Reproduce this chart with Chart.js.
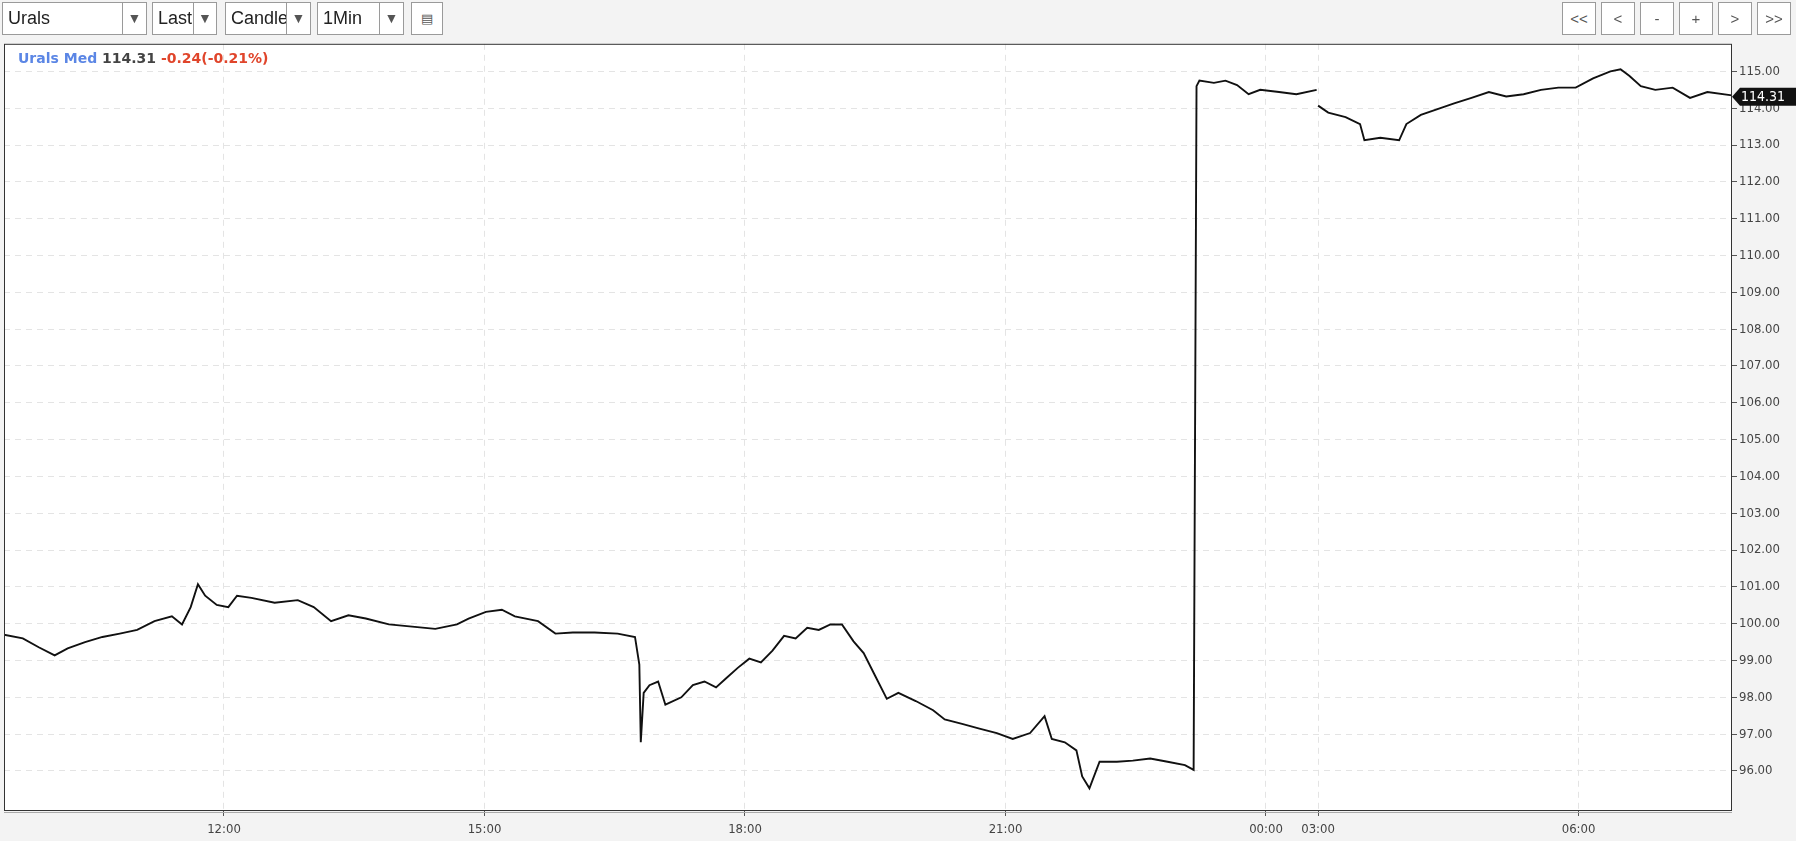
<!DOCTYPE html>
<html>
<head>
<meta charset="utf-8">
<script src="https://cdn.jsdelivr.net/npm/chart.js@4/dist/chart.umd.min.js"></script>
<style>
  html, body { margin: 0; padding: 0; background: #f3f3f3; width: 1796px; height: 841px; overflow: hidden;
    font-family: "Liberation Sans", Arial, sans-serif; }
  .sel { position: absolute; top: 2px; height: 31px; border: 1px solid #9a9a9a; background: #fff;
    font-size: 18px; line-height: 31px; color: #222; box-sizing: content-box; z-index: 2; }
  .sel span { position: absolute; left: 5px; top: 0; overflow: hidden; white-space: nowrap; }
  .sel .arr { position: absolute; top: 0; bottom: 0; right: 0; border-left: 1px solid #9a9a9a;
    text-align: center; color: #555; font-size: 14px; }
  .btn { position: absolute; top: 2px; width: 32px; height: 31px; border: 1px solid #9a9a9a; background: #fff;
    text-align: center; line-height: 31px; color: #555; font-size: 15px; z-index: 2; }
  #wrap { position: absolute; left: 0; top: 34px; width: 1796px; height: 807px; }
  #legend { position: absolute; left: 18px; top: 50px; font-size: 14px; font-weight: bold; font-family: "DejaVu Sans", sans-serif; }
</style>
</head>
<body>
<div id="wrap"><canvas id="c"></canvas></div>
<div class="sel" style="left:2px;width:143px"><span>Urals</span><div class="arr" style="width:23px">▼</div></div>
<div class="sel" style="left:152px;width:63px"><span style="width:40px">Last</span><div class="arr" style="width:22px">▼</div></div>
<div class="sel" style="left:225px;width:84px"><span style="width:56px">Candle</span><div class="arr" style="width:23px">▼</div></div>
<div class="sel" style="left:317px;width:85px"><span>1Min</span><div class="arr" style="width:23px">▼</div></div>
<div class="btn" style="left:411px;width:30px;font-size:13px">&#9636;</div>
<div class="btn" style="left:1562px">&lt;&lt;</div>
<div class="btn" style="left:1601px">&lt;</div>
<div class="btn" style="left:1640px">-</div>
<div class="btn" style="left:1679px">+</div>
<div class="btn" style="left:1718px">&gt;</div>
<div class="btn" style="left:1757px">&gt;&gt;</div>
<div id="legend"><span style="color:#5b86e5">Urals Med</span> <span style="color:#444">114.31</span> <span style="color:#e0452b">-0.24(-0.21%)</span></div>
<script>
// session 1: 09:28 .. 00:36, session 2: 03:00 .. 07:46
const times1 = ['09:28','09:41','09:52','10:03','10:12','10:24','10:36','10:48','11:00','11:12','11:24','11:31','11:37','11:42','11:47','11:55',
  '12:03','12:09','12:19','12:35','12:51','13:02','13:14','13:26','13:38','13:54','14:10','14:26','14:41','14:49','15:01','15:12','15:21','15:37',
  '15:49','16:01','16:16','16:32','16:44','16:47','16:48','16:50','16:54','17:00','17:05','17:16','17:24','17:32','17:40','17:47','17:55',
  '18:03','18:11','18:19','18:27','18:35','18:43','18:51','18:59','19:07','19:15','19:22','19:30','19:38','19:46','19:58','20:10','20:18',
  '20:30','20:42','20:54','21:05','21:17','21:27','21:32','21:41','21:49','21:53','21:58','22:05','22:17','22:28','22:40','22:52','23:04',
  '23:10','23:12','23:14','23:24','23:32','23:40','23:48','23:56','00:09','00:21','00:35'];
const prices1 = [99.70,99.60,99.36,99.14,99.33,99.50,99.64,99.73,99.83,100.07,100.20,99.98,100.45,101.07,100.76,100.51,
  100.45,100.76,100.70,100.57,100.64,100.45,100.07,100.23,100.14,99.98,99.92,99.86,99.98,100.14,100.32,100.38,100.20,100.07,
  99.73,99.76,99.76,99.73,99.64,98.89,96.78,98.12,98.33,98.43,97.80,98.00,98.33,98.43,98.27,98.52,98.80,
  99.05,98.95,99.27,99.67,99.60,99.89,99.83,99.98,99.98,99.52,99.20,98.58,97.96,98.12,97.90,97.65,97.40,
  97.28,97.15,97.03,96.87,97.03,97.49,96.87,96.78,96.56,95.85,95.53,96.25,96.25,96.28,96.34,96.25,96.16,
  96.03,114.60,114.75,114.69,114.75,114.63,114.38,114.50,114.44,114.38,114.50];
const times2 = ['03:00','03:07','03:19','03:29','03:32','03:43','03:56','04:01','04:11','04:22','04:34','04:46','04:58','05:10',
  '05:22','05:34','05:46','05:58','06:10','06:22','06:29','06:35','06:43','06:53','07:05','07:17','07:29','07:46'];
const prices2 = [114.07,113.88,113.76,113.57,113.13,113.20,113.13,113.57,113.82,113.97,114.13,114.28,114.44,114.32,
  114.38,114.50,114.56,114.56,114.81,115.00,115.06,114.88,114.60,114.50,114.56,114.28,114.44,114.35];
const tickTimes = ['12:00','15:00','18:00','21:00','00:00','03:00','06:00'];
const lastPrice = 114.31;

// compressed session axis, minutes from 09:28
function pos(t, second) {
  const [h, m] = t.split(':').map(Number);
  const mins = h * 60 + m;
  if (second) return 908 + (mins - 180);
  if (h >= 9) return mins - 568;
  return 872 + mins;
}
const pts = times1.map((t, i) => ({ x: pos(t, false), y: prices1[i] }))
  .concat([{ x: 907, y: null }])
  .concat(times2.map((t, i) => ({ x: pos(t, true), y: prices2[i] })));
const tickPos = tickTimes.map((t, i) => pos(t, i >= 5));

const framePlugin = {
  id: 'frame',
  beforeDraw(chart) {
    const { ctx, chartArea: a } = chart;
    ctx.save();
    ctx.fillStyle = '#fff';
    ctx.fillRect(a.left, a.top, a.right - a.left, a.bottom - a.top);
    ctx.restore();
  },
  afterDraw(chart) {
    const { ctx, chartArea: a, scales } = chart;
    ctx.save();
    ctx.strokeStyle = '#333';
    ctx.lineWidth = 1;
    ctx.strokeRect(a.left + 0.5, a.top + 0.5, a.right - a.left - 1, a.bottom - a.top);
    ctx.strokeStyle = '#aaa';
    ctx.beginPath(); ctx.moveTo(a.left, a.bottom + 2.5); ctx.lineTo(a.right, a.bottom + 2.5); ctx.stroke();
    // last price tag
    const y = scales.y.getPixelForValue(lastPrice);
    ctx.fillStyle = '#111';
    ctx.beginPath();
    ctx.moveTo(a.right, y);
    ctx.lineTo(a.right + 8, y - 9);
    ctx.lineTo(1796, y - 9);
    ctx.lineTo(1796, y + 9);
    ctx.lineTo(a.right + 8, y + 9);
    ctx.closePath();
    ctx.fill();
    ctx.fillStyle = '#fff';
    ctx.font = '14px "DejaVu Sans Condensed", "DejaVu Sans", sans-serif';
    ctx.textBaseline = 'middle';
    ctx.fillText(lastPrice.toFixed(2), a.right + 9, y + 1);
    ctx.restore();
  }
};

new Chart(document.getElementById('c'), {
  type: 'line',
  data: { datasets: [{ data: pts, borderColor: '#111', borderWidth: 1.9, pointRadius: 0, tension: 0, spanGaps: false }] },
  options: {
    responsive: true,
    maintainAspectRatio: false,
    animation: false,
    layout: { padding: { left: 4, top: 0, right: 0, bottom: 0 } },
    plugins: { legend: { display: false }, tooltip: { enabled: false } },
    scales: {
      x: {
        type: 'linear', min: 0, max: 1194,
        afterBuildTicks: s => { s.ticks = tickPos.map(v => ({ value: v })); },
        afterFit: s => { s.height = 31; },
        grid: { color: '#e4e4e4', tickLength: 6, drawTicks: true, tickColor: '#555' },
        border: { display: false, dash: [6, 5] },
        ticks: {
          color: '#444', padding: 6, maxRotation: 0,
          font: { family: '"DejaVu Sans Condensed", "DejaVu Sans", sans-serif', size: 13 },
          callback: (v, i) => tickTimes[i]
        }
      },
      y: {
        position: 'right', min: 94.94, max: 115.75,
        afterBuildTicks: s => { const t = []; for (let v = 96; v <= 115; v++) t.push({ value: v }); s.ticks = t; },
        afterFit: s => { s.width = 64; },
        grid: { color: '#e4e4e4', tickLength: 5, tickColor: '#555' },
        border: { display: false, dash: [6, 5] },
        ticks: {
          color: '#444', padding: 2,
          font: { family: '"DejaVu Sans Condensed", "DejaVu Sans", sans-serif', size: 13 },
          callback: v => v.toFixed(2)
        }
      }
    }
  },
  plugins: [framePlugin]
});
</script>
</body>
</html>
